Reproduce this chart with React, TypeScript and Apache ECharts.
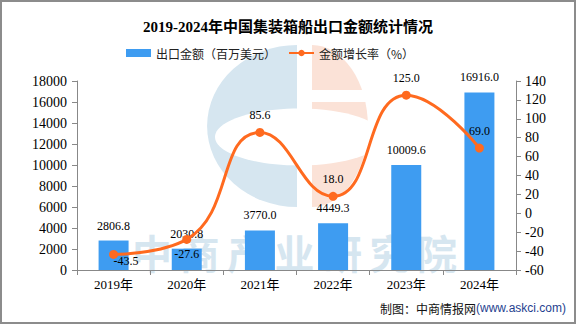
import React, { useEffect, useRef } from "react";
import * as echarts from "echarts";

const years = ["2019年", "2020年", "2021年", "2022年", "2023年", "2024年"];
const exportValues = [2806.8, 2030.8, 3770.0, 4449.3, 10009.6, 16916.0];
const growthRates = [-43.5, -27.6, 85.6, 18.0, 125.0, 69.0];
const watermarkChars = ["中", "商", "产", "业", "研", "究", "院"];

const BAR = "#3E9CF1";
const LINE = "#FF6A1F";
const NUM_FONT = "'Liberation Serif', 'Noto Sans CJK SC', serif";
const CJK_FONT = "'Noto Sans CJK SC', sans-serif";

export default function App() {
  const ref = useRef<HTMLDivElement>(null);
  useEffect(() => {
    if (!ref.current) return;
    const chart = echarts.init(ref.current, null, { renderer: "svg" });
    const wmFill = "#d6e6f0";
    const watermark: any[] = [
      {
        type: "sector",
        x: 297,
        y: 126,
        scaleX: 1.11,
        shape: { cx: 0, cy: 0, r: 81, r0: 0, startAngle: Math.PI / 2, endAngle: (Math.PI * 3) / 2 },
        style: { fill: wmFill },
        z: -10,
        silent: true,
      },
      {
        type: "ellipse",
        shape: { cx: 299, cy: 137, rx: 84, ry: 28.5 },
        style: { fill: "#ffffff" },
        z: -9,
        silent: true,
      },
      {
        type: "sector",
        x: 312,
        y: 126,
        scaleX: 0.69,
        shape: { cx: 0, cy: 0, r: 81, r0: 0, startAngle: -Math.PI / 2, endAngle: Math.PI / 2 },
        style: { fill: "#fbe2d7" },
        z: -10,
        silent: true,
      },
      {
        type: "rect",
        shape: { x: 310, y: 90, width: 64, height: 12 },
        style: { fill: "#ffffff" },
        z: -9,
        silent: true,
      },
      ...watermarkChars.map((ch, i) => ({
        type: "text",
        x: 152 + i * 47.5,
        y: 252,
        style: {
          text: ch,
          fill: wmFill,
          font: "bold 40px 'Noto Sans CJK SC'",
          align: "center",
          verticalAlign: "middle",
        },
        z: -8,
        silent: true,
      })),
      {
        type: "rect",
        shape: { x: 1, y: 1, width: 574, height: 322 },
        style: { fill: "none", stroke: "#8c8c8c", lineWidth: 2 },
        z: 100,
        silent: true,
      },
      {
        type: "text",
        right: 10,
        top: 302,
        style: {
          text: "{a|制图：中商情报网}{b|(www.askci.com)}",
          rich: {
            a: { fontSize: 12, fontFamily: CJK_FONT, fill: "#111" },
            b: { fontSize: 12, fontFamily: "'Liberation Sans', sans-serif", fill: "#1f3f8f" },
          },
        },
        z: 100,
      },
    ];

    chart.setOption({
      animation: false,
      backgroundColor: "#ffffff",
      title: {
        text: "2019-2024年中国集装箱船出口金额统计情况",
        left: "center",
        top: 14,
        textStyle: { fontSize: 15, fontWeight: "bold", color: "#000", fontFamily: NUM_FONT },
      },
      legend: {
        top: 42,
        left: 121,
        itemWidth: 25,
        itemHeight: 8,
        itemGap: 12,
        textStyle: { fontSize: 12, color: "#222", fontFamily: CJK_FONT },
        data: [
          { name: "出口金额（百万美元）", icon: "rect" },
          { name: "金额增长率（%）" },
        ],
      },
      grid: { left: 77, right: 60, top: 81, bottom: 54, containLabel: false },
      xAxis: {
        type: "category",
        data: years,
        boundaryGap: true,
        axisLine: { lineStyle: { color: "#888", width: 1 } },
        axisTick: { show: true, length: 5, lineStyle: { color: "#888" }, alignWithLabel: false },
        axisLabel: { color: "#000", fontSize: 13, margin: 8, fontFamily: NUM_FONT },
      },
      yAxis: [
        {
          type: "value",
          min: 0,
          max: 18000,
          interval: 2000,
          axisLine: { show: true, lineStyle: { color: "#888" } },
          axisTick: { show: true, length: 5, lineStyle: { color: "#888" } },
          splitLine: { show: false },
          axisLabel: {
            color: "#000",
            fontSize: 14,
            margin: 10,
            fontFamily: NUM_FONT,
            formatter: (v: number) => String(v),
          },
        },
        {
          type: "value",
          min: -60,
          max: 140,
          interval: 20,
          position: "right",
          axisLine: { show: true, lineStyle: { color: "#888" } },
          axisTick: { show: true, length: 5, lineStyle: { color: "#888" } },
          splitLine: { show: false },
          axisLabel: {
            color: "#000",
            fontSize: 14,
            margin: 9,
            fontFamily: NUM_FONT,
            formatter: (v: number) => String(v),
          },
        },
      ],
      graphic: watermark,
      series: [
        {
          name: "出口金额（百万美元）",
          type: "bar",
          data: exportValues,
          barWidth: 30,
          itemStyle: { color: BAR },
          label: {
            show: true,
            position: "top",
            distance: 9,
            color: "#000",
            fontSize: 12,
            fontFamily: NUM_FONT,
            formatter: (p: any) => Number(p.value).toFixed(1),
          },
          z: 2,
        },
        {
          name: "金额增长率（%）",
          type: "line",
          yAxisIndex: 1,
          smooth: true,
          symbol: "circle",
          symbolSize: 9,
          lineStyle: { color: LINE, width: 3 },
          itemStyle: { color: LINE },
          data: growthRates.map((v) => ({
            value: v,
            label: { position: v < 0 ? "bottom" : "top", distance: v < 0 ? 4 : 7 },
          })),
          label: {
            show: true,
            color: "#000",
            fontSize: 12,
            fontFamily: NUM_FONT,
            formatter: (p: any) => Number(p.value).toFixed(1),
          },
          labelLayout: (params: any) => {
            const r = params.labelRect;
            if (r && r.y + r.height > 267) {
              return { y: 267 - r.height };
            }
            return {};
          },
          z: 3,
        },
      ],
    });
    return () => chart.dispose();
  }, []);

  return (
    <div
      ref={ref}
      style={{ position: "fixed", left: 0, top: 0, width: 576, height: 324, background: "#fff" }}
    />
  );
}
